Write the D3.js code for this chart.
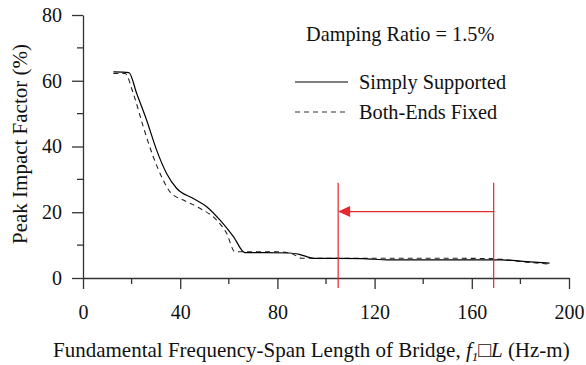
<!DOCTYPE html>
<html>
<head>
<meta charset="utf-8">
<script src="https://cdn.jsdelivr.net/npm/d3@7"></script>
<style>
  body { margin: 0; background: #fff; }
  text { font-family: "Liberation Serif", "Times New Roman", serif; fill: #111; }
</style>
</head>
<body>
<div id="chart"></div>
<script>
// Simply supported curve (fundamental frequency-span length, peak impact factor %)
var ssFreq = [12.5, 18.9, 22.1, 26.2, 30.3, 34.4, 38.5, 45.4, 50.9, 56.4, 61.9, 66.7, 75, 85, 89, 95, 105, 115, 126, 140, 160, 172, 182.5, 192];
var ssImpact = [62.7, 62.5, 56.1, 48.0, 38.9, 31.8, 27.3, 24.2, 21.7, 17.6, 12.6, 7.7, 7.7, 7.6, 7.2, 6.0, 6.0, 5.9, 5.5, 5.5, 5.5, 5.5, 5.0, 4.5];

// Both-ends fixed curve
var fxFreq = [12.5, 17.3, 20.7, 24.8, 28.9, 33.0, 35.8, 41.3, 48.1, 55.0, 59.1, 62.5, 70, 80, 86, 90, 100, 120, 126, 150, 168, 180, 192];
var fxImpact = [62.2, 62.2, 56.1, 46.0, 36.9, 29.8, 26.2, 23.7, 21.2, 17.6, 13.6, 8.0, 8.0, 8.0, 7.4, 6.0, 6.0, 6.0, 6.0, 6.0, 5.9, 5.0, 4.2];

var xTicks = [0, 40, 80, 120, 160, 200];
var yTicks = [0, 20, 40, 60, 80];
var xMinor = [20, 60, 100, 140, 180];
var yMinor = [10, 30, 50, 70];

// red range markers and arrow (x values, arrow height)
var rangeLines = [105, 169];
var rangeTop = 29;
var arrowLevel = 20.2;

var legendNames = ["Simply Supported", "Both-Ends Fixed"];

var width = 586, height = 365;
var margin = { top: 15, right: 17, bottom: 87, left: 83 };

var svg = d3.select("#chart").append("svg")
    .attr("width", width)
    .attr("height", height);

var x = d3.scaleLinear().domain([0, 200]).range([margin.left, width - margin.right]);
var y = d3.scaleLinear().domain([0, 80]).range([height - margin.bottom, margin.top]);

var axisColor = "#333";

// axes
svg.append("g")
    .attr("transform", "translate(0," + y(0) + ")")
    .call(d3.axisBottom(x).tickValues(xTicks).tickSize(11).tickSizeOuter(0).tickPadding(16));
svg.append("g")
    .attr("transform", "translate(" + x(0) + ",0)")
    .call(d3.axisLeft(y).tickValues(yTicks).tickSize(11).tickSizeOuter(0).tickPadding(10));

// minor ticks
svg.append("g").selectAll("line").data(xMinor).enter().append("line")
    .attr("x1", function (d) { return x(d); })
    .attr("x2", function (d) { return x(d); })
    .attr("y1", y(0))
    .attr("y2", y(0) + 6);
svg.append("g").selectAll("line").data(yMinor).enter().append("line")
    .attr("y1", function (d) { return y(d); })
    .attr("y2", function (d) { return y(d); })
    .attr("x1", x(0))
    .attr("x2", x(0) - 6);

svg.selectAll("line").attr("stroke", axisColor).attr("stroke-width", 1.3);
svg.selectAll(".domain").attr("stroke", axisColor).attr("stroke-width", 1.3);
svg.selectAll(".tick text")
    .style("font-family", "'Liberation Serif', serif")
    .style("font-size", "20px")
    .attr("fill", "#111");

// curves
var line = d3.line()
    .x(function (d) { return x(d[0]); })
    .y(function (d) { return y(d[1]); })
    .curve(d3.curveMonotoneX);

svg.append("path")
    .datum(d3.zip(fxFreq, fxImpact))
    .attr("d", line)
    .attr("fill", "none")
    .attr("stroke", "#222")
    .attr("stroke-width", 1.1)
    .attr("stroke-dasharray", "5,4");

svg.append("path")
    .datum(d3.zip(ssFreq, ssImpact))
    .attr("d", line)
    .attr("fill", "none")
    .attr("stroke", "#000")
    .attr("stroke-width", 1.2);

// red range lines + arrow
var red = "#e8262e";
svg.append("g").selectAll("line").data(rangeLines).enter().append("line")
    .attr("x1", function (d) { return x(d); })
    .attr("x2", function (d) { return x(d); })
    .attr("y1", y(rangeTop))
    .attr("y2", y(0) + 10)
    .attr("stroke", red)
    .attr("stroke-width", 1.2);

var ax0 = x(rangeLines[0]), ax1 = x(rangeLines[1]), ay = y(arrowLevel);
svg.append("line")
    .attr("x1", ax0 + 10).attr("x2", ax1)
    .attr("y1", ay).attr("y2", ay)
    .attr("stroke", red).attr("stroke-width", 1.2);
svg.append("path")
    .attr("d", "M" + ax0 + "," + ay + "L" + (ax0 + 12) + "," + (ay - 5.5) + "L" + (ax0 + 12) + "," + (ay + 5.5) + "Z")
    .attr("fill", red);

// legend
svg.append("text")
    .attr("x", 306).attr("y", 41)
    .style("font-size", "20.3px")
    .text("Damping Ratio = 1.5%");

var leg = svg.append("g");
leg.selectAll("line").data(legendNames).enter().append("line")
    .attr("x1", 295).attr("x2", 348)
    .attr("y1", function (d, i) { return 82 + i * 30; })
    .attr("y2", function (d, i) { return 82 + i * 30; })
    .attr("stroke", function (d, i) { return i ? "#333" : "#000"; })
    .attr("stroke-width", 1.2)
    .attr("stroke-dasharray", function (d, i) { return i ? "5,4" : null; });
leg.selectAll("text").data(legendNames).enter().append("text")
    .attr("x", 359)
    .attr("y", function (d, i) { return 89 + i * 30; })
    .style("font-size", "20.3px")
    .text(function (d) { return d; });

// axis titles
svg.append("text")
    .attr("transform", "translate(27,144) rotate(-90)")
    .attr("text-anchor", "middle")
    .style("font-size", "21px")
    .text("Peak Impact Factor (%)");

var xt = svg.append("text")
    .attr("x", 53)
    .attr("y", 357)
    .style("font-size", "21px");
xt.append("tspan").text("Fundamental Frequency-Span Length of Bridge, ");
xt.append("tspan").style("font-style", "italic").text("f");
xt.append("tspan").attr("dy", 4).style("font-size", "13px").style("font-style", "italic").text("1");
xt.append("tspan").attr("dy", -4).text("\u25A1");
xt.append("tspan").style("font-style", "italic").text("L");
xt.append("tspan").text(" (Hz-m)");
</script>
</body>
</html>
